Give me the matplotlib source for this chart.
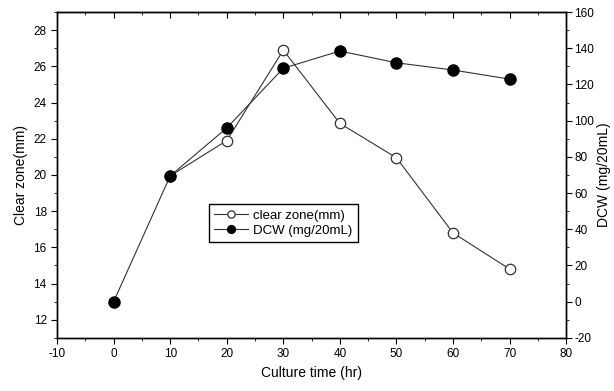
import matplotlib.pyplot as plt
from matplotlib.ticker import MultipleLocator

plt.rcParams['font.family'] = ['Liberation Sans', 'DejaVu Sans']
plt.rcParams['axes.unicode_minus'] = False

# culture time (hr)
time_cz = [10, 20, 30, 40, 50, 60, 70]
clear_zone = [19.95, 21.9, 26.9, 22.85, 20.95, 16.8, 14.8]

time_dcw = [0, 10, 20, 30, 40, 50, 60, 70]
dcw = [0, 69.5, 96, 129, 138.5, 132, 128, 123]


def style_axes(ax, ax2):
    ax.set_xlim(-10, 80)
    ax.set_ylim(11, 29)
    ax2.set_ylim(-20, 160)
    ax.xaxis.set_major_locator(MultipleLocator(10))
    ax.xaxis.set_minor_locator(MultipleLocator(5))
    ax.yaxis.set_major_locator(MultipleLocator(2))
    ax.yaxis.set_minor_locator(MultipleLocator(1))
    ax2.yaxis.set_major_locator(MultipleLocator(20))
    ax2.yaxis.set_minor_locator(MultipleLocator(10))
    ax.tick_params(axis='x', which='both', direction='out', labelsize=8.5)
    ax.tick_params(axis='x', which='major', length=4)
    ax.tick_params(axis='x', which='minor', length=2.5)
    ax.tick_params(axis='y', which='major', direction='out', length=4, labelsize=8.5)
    ax.tick_params(axis='y', which='minor', direction='out', length=2.5)
    ax2.tick_params(axis='y', which='major', direction='out', length=4, labelsize=8.5, pad=2)
    ax2.tick_params(axis='y', which='minor', direction='out', length=2.5)
    for sp in list(ax.spines.values()) + list(ax2.spines.values()):
        sp.set_linewidth(1.0)

    # top ticks point inward like the original
    sec = ax.secondary_xaxis('top')
    sec.xaxis.set_major_locator(MultipleLocator(10))
    sec.xaxis.set_minor_locator(MultipleLocator(5))
    sec.tick_params(axis='x', which='both', direction='in', labeltop=False)
    sec.tick_params(axis='x', which='major', length=4)
    sec.tick_params(axis='x', which='minor', length=2.5)


def main():
    fig = plt.figure(figsize=(6.14, 3.91), dpi=100)
    ax = fig.add_axes([0.093, 0.136, 0.829, 0.833])
    ax2 = ax.twinx()

    l1, = ax.plot(time_cz, clear_zone, 'o-', color='#333333', lw=0.8,
                  mfc='white', mec='#333333', mew=0.9, ms=7.5,
                  label='clear zone(mm)')
    l2, = ax2.plot(time_dcw, dcw, 'o-', color='#333333', lw=0.8,
                   mfc='black', mec='black', ms=8,
                   label='DCW (mg/20mL)')

    style_axes(ax, ax2)

    ax.set_xlabel('Culture time (hr)', fontsize=10)
    ax.set_ylabel('Clear zone(mm)', fontsize=10)
    ax2.set_ylabel('DCW (mg/20mL)', fontsize=10, labelpad=2)

    leg = fig.legend(handles=[l1, l2], loc='upper left',
                     bbox_to_anchor=(0.329, 0.494), fontsize=9.5,
                     fancybox=False, edgecolor='black', framealpha=1,
                     handlelength=2.6, markerscale=0.7, borderpad=0.4,
                     labelspacing=0.2, handletextpad=0.4)
    leg.get_frame().set_linewidth(1.0)

    plt.savefig('out.png', dpi=100)


if __name__ == '__main__':
    main()
